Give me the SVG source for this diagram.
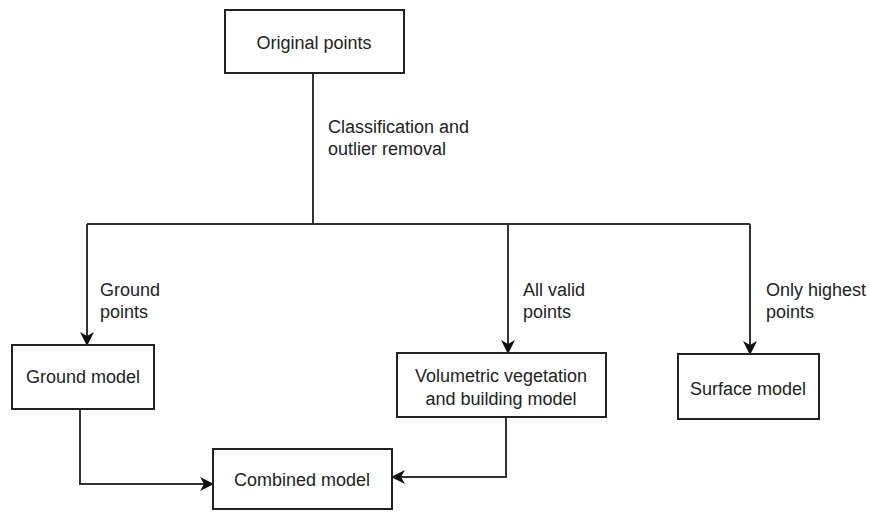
<svg xmlns="http://www.w3.org/2000/svg" width="870" height="512" viewBox="0 0 870 512">
<style>
rect.box{fill:#fff;stroke:#222;stroke-width:2}
text{font-family:"Liberation Sans",Arial,sans-serif;font-size:18px;fill:#222}
.c{text-anchor:middle}
.ln{fill:none;stroke:#333;stroke-width:2}
</style>
<defs>
<marker id="ah" viewBox="0 0 14 14" refX="13" refY="7" markerWidth="14" markerHeight="14" markerUnits="userSpaceOnUse" orient="auto">
<path d="M0,0 L14,7 L0,14 L4,7 Z" fill="#111"/>
</marker>
</defs>
<rect width="870" height="512" fill="#fff"/>
<g id="connectors">
<path class="ln" d="M313,73 V224"/>
<path class="ln" d="M87,224 H750"/>
<path class="ln" d="M87,224 V345" marker-end="url(#ah)"/>
<path class="ln" d="M508,224 V353" marker-end="url(#ah)"/>
<path class="ln" d="M750,224 V354" marker-end="url(#ah)"/>
<path class="ln" d="M80,409 V484 H213" marker-end="url(#ah)"/>
<path class="ln" d="M506,417 V477 H392" marker-end="url(#ah)"/>
<text x="328" y="133">Classification and</text>
<text x="328" y="155">outlier removal</text>
<text x="100" y="296">Ground</text>
<text x="100" y="318">points</text>
<text x="523" y="296">All valid</text>
<text x="523" y="318">points</text>
<text x="766" y="296">Only highest</text>
<text x="766" y="318">points</text>
</g>
<g id="original">
<rect class="box" x="225" y="10" width="179" height="63"/>
<text class="c" x="314" y="49">Original points</text>
</g>
<g id="ground">
<rect class="box" x="12" y="345" width="142" height="64"/>
<text class="c" x="83" y="383">Ground model</text>
</g>
<g id="volumetric">
<rect class="box" x="397" y="353" width="209" height="64"/>
<text class="c" x="501" y="382">Volumetric vegetation</text>
<text class="c" x="501" y="405">and building model</text>
</g>
<g id="surface">
<rect class="box" x="678" y="354" width="141" height="65"/>
<text class="c" x="748" y="395">Surface model</text>
</g>
<g id="combined">
<rect class="box" x="213" y="449" width="179" height="60"/>
<text class="c" x="302" y="486">Combined model</text>
</g>
</svg>
